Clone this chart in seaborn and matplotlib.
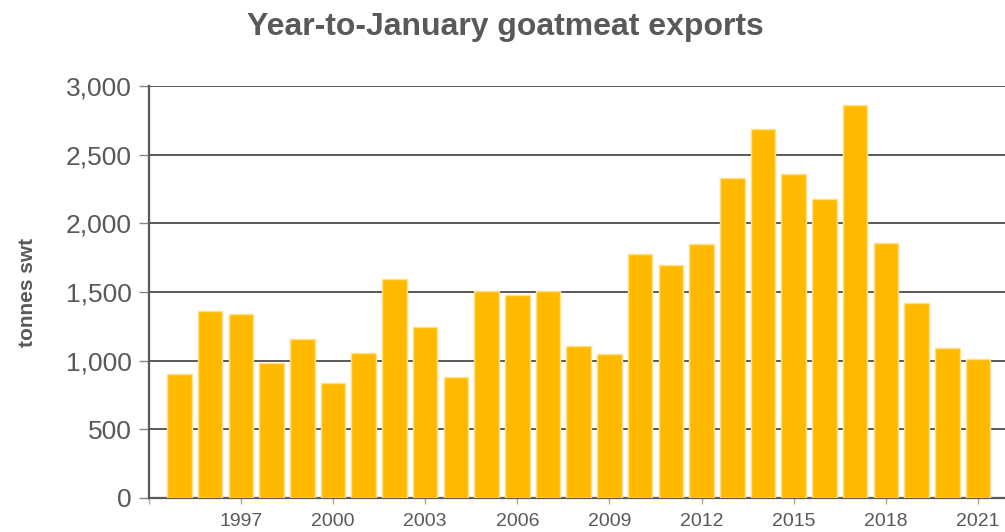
import pandas as pd
import seaborn as sns
import matplotlib.pyplot as plt
from matplotlib.ticker import FuncFormatter

years = list(range(1995, 2022))
tonnes = [903, 1364, 1340, 985, 1158, 837, 1056, 1597, 1248, 881,
          1505, 1481, 1510, 1105, 1047, 1779, 1697, 1851, 2328, 2690,
          2357, 2176, 2864, 1858, 1418, 1092, 1012]
tick_years = [1997, 2000, 2003, 2006, 2009, 2012, 2015, 2018, 2021]

df = pd.DataFrame({"year": [str(y) for y in years], "tonnes": tonnes})

sns.set_style("white")
plt.rcParams['font.family'] = ['Liberation Sans', 'DejaVu Sans']
grey = "#595959"

fig = plt.figure(figsize=(10.05, 5.32), dpi=100)
ax = fig.add_axes([0.148, 0.064, 0.852, 0.774])
sns.barplot(data=df, x="year", y="tonnes", color="#FFBA00", saturation=1,
            width=0.8, edgecolor="#FFE08A", linewidth=1, ax=ax, zorder=3)

ax.set_ylim(0, 3000)
ax.set_yticks(range(0, 3001, 500))
ax.yaxis.set_major_formatter(FuncFormatter(lambda v, p: f"{int(v):,}"))
ax.grid(axis="y", color=grey, linewidth=1.4, zorder=0)
ax.set_axisbelow(True)

pos = [-1] + [years.index(y) for y in tick_years]
ax.set_xticks(pos)
ax.set_xticklabels([""] + [str(y) for y in tick_years])
ax.set_xlim(-1, 26.88)

for s in ["top", "right"]:
    ax.spines[s].set_visible(False)
for s in ["left", "bottom"]:
    ax.spines[s].set_color(grey)
    ax.spines[s].set_linewidth(1.6)
ax.tick_params(axis="y", length=7, width=1, color="#888888", labelsize=19,
               labelcolor=grey, pad=5.5, left=True)
ax.tick_params(axis="x", length=4.5, width=1, color="#aaaaaa", labelsize=14,
               labelcolor=grey, pad=6.5, bottom=True)

ax.set_xlabel("")
ax.set_ylabel("tonnes swt", fontsize=15, fontweight="bold", color=grey)
ax.yaxis.set_label_coords(-0.131, 0.5)
fig.text(0.503, 1 - 27 / 532, "Year-to-January goatmeat exports", ha="center",
         va="center", fontsize=23, fontweight="bold", color=grey)

plt.savefig("out.png", dpi=100)
